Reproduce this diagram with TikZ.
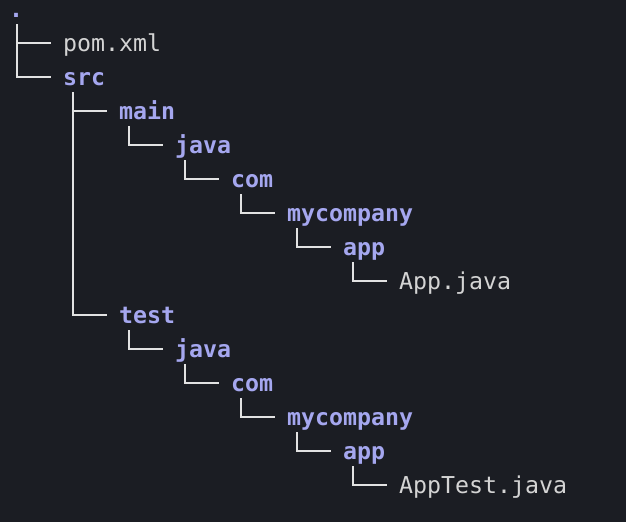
\documentclass[tikz,border=0pt]{standalone}
\usepackage{fontspec}
\setmonofont{DejaVu Sans Mono}
\usetikzlibrary{calc}
\definecolor{bg}{HTML}{1B1D23}
\definecolor{dircol}{HTML}{A5A7EF}
\definecolor{filecol}{HTML}{D4D4D4}
\definecolor{linecol}{HTML}{E2E2E2}
\tikzset{
  entry/.style={anchor=base west, inner sep=0pt, font=\ttfamily\fontsize{23.25}{28}\selectfont},
  dirent/.style={entry, text=dircol, font=\ttfamily\bfseries\fontsize{23.25}{28}\selectfont},
  fileent/.style={entry, text=filecol},
  tree/.style={draw=linecol, line width=2pt},
}
\newcommand{\conn}[2]{\draw[tree] ($(#1.base west)+(10,7)$) |- ($(#2.base west)+(-12,-8)$);}
\begin{document}
\begin{tikzpicture}[x=1pt,y=-1pt]
\fill[bg] (0,0) rectangle (626,522);
\useasboundingbox (0,0) rectangle (626,522);
% rows: baseline = 17 + 34*i ; cell x = 7 + 56*level
\node[dirent]  (root)  at (9,17)   {.};
\node[fileent] (pom)   at (63,51)  {pom.xml};
\node[dirent]  (src)   at (63,85)  {src};
\node[dirent]  (main)  at (119,119) {main};
\node[dirent]  (mjava) at (175,153) {java};
\node[dirent]  (mcom)  at (231,187) {com};
\node[dirent]  (mmyc)  at (287,221) {mycompany};
\node[dirent]  (mapp)  at (343,255) {app};
\node[fileent] (appj)  at (399,289) {App.java};
\node[dirent]  (test)  at (119,323) {test};
\node[dirent]  (tjava) at (175,357) {java};
\node[dirent]  (tcom)  at (231,391) {com};
\node[dirent]  (tmyc)  at (287,425) {mycompany};
\node[dirent]  (tapp)  at (343,459) {app};
\node[fileent] (appt)  at (399,493) {AppTest.java};
% root connectors
\draw[tree] ($(root.base west)+(8,7)$) |- ($(pom.base west)+(-12,-8)$);
\draw[tree] ($(root.base west)+(8,7)$) |- ($(src.base west)+(-12,-8)$);
% other connectors
\conn{src}{main}
\conn{src}{test}
\conn{main}{mjava}
\conn{mjava}{mcom}
\conn{mcom}{mmyc}
\conn{mmyc}{mapp}
\conn{mapp}{appj}
\conn{test}{tjava}
\conn{tjava}{tcom}
\conn{tcom}{tmyc}
\conn{tmyc}{tapp}
\conn{tapp}{appt}
\end{tikzpicture}
\end{document}
